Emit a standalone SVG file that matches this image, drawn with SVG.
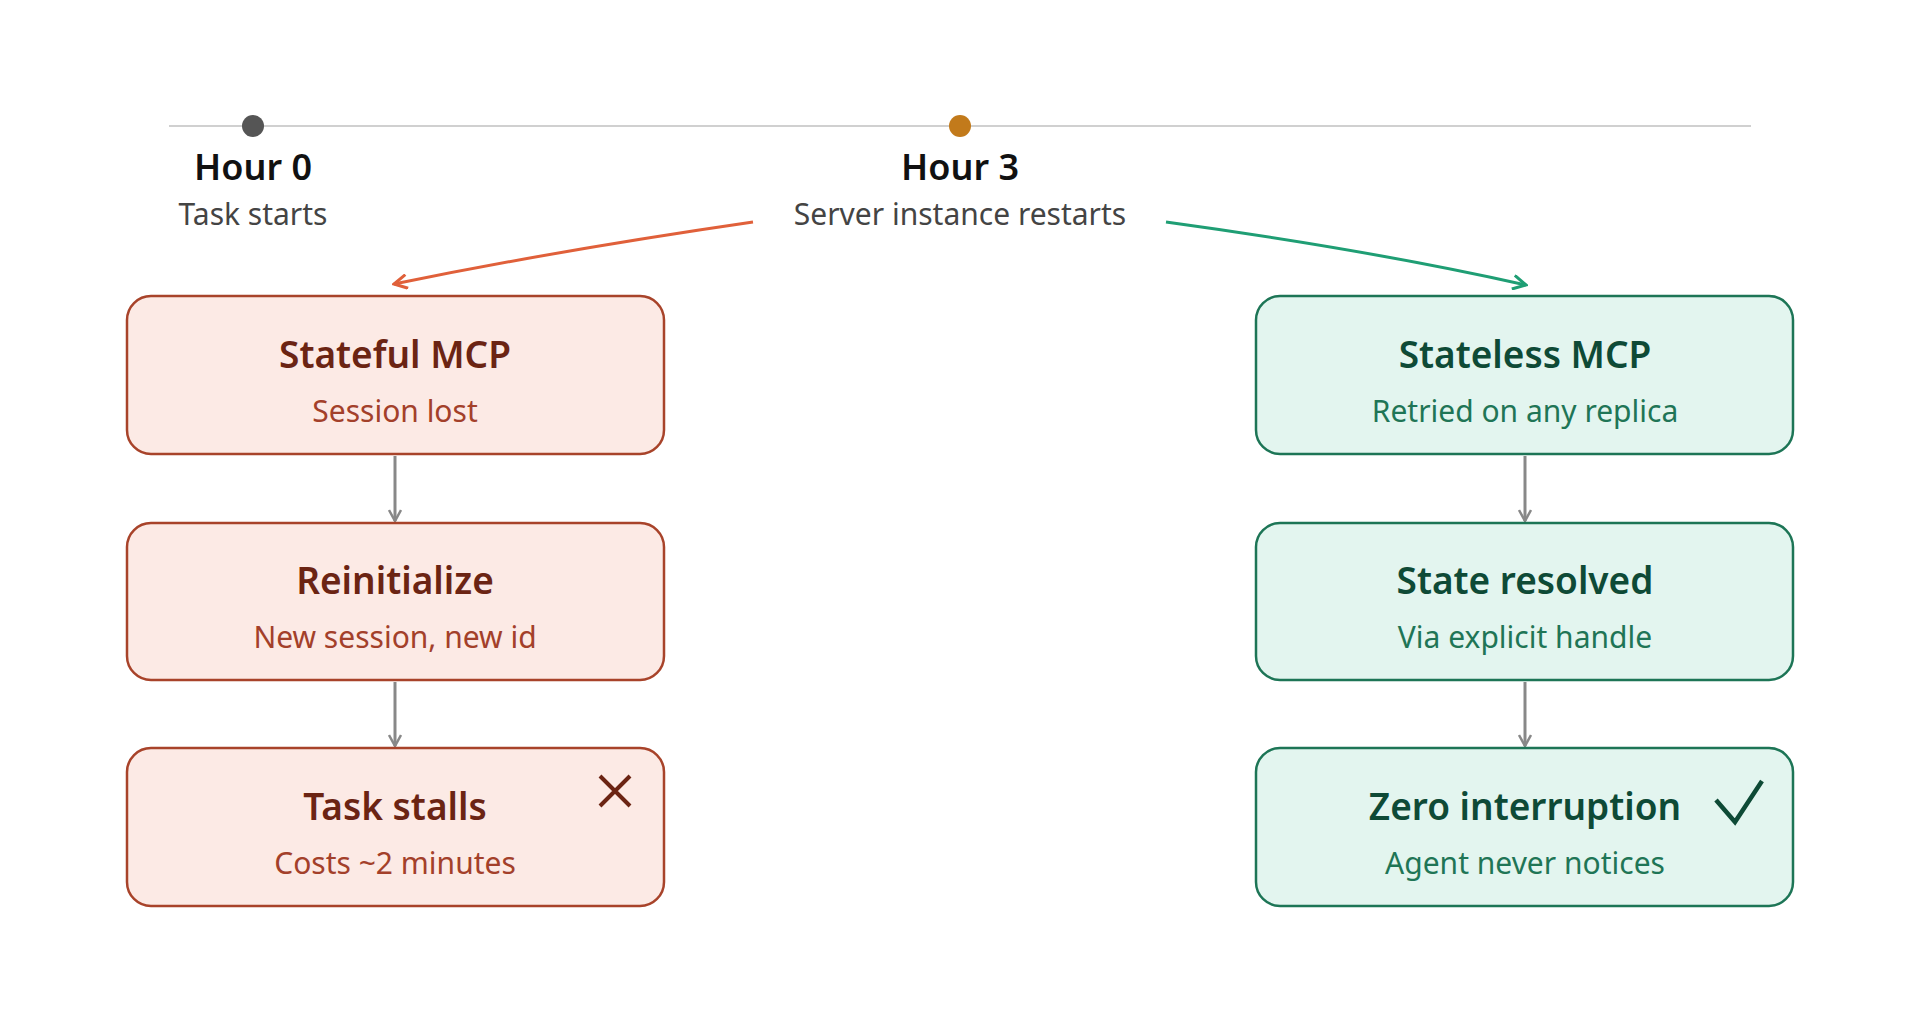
<svg xmlns="http://www.w3.org/2000/svg" width="1920" height="1019" viewBox="0 0 1920 1019">
<defs>
<style>
text{font-family:"Noto Sans","Open Sans",sans-serif;text-anchor:middle}
.hr{font-size:36px;font-weight:600;fill:#111}
.hs{font-size:30px;fill:#444}
.rb{fill:#FCEAE5;stroke:#A8432A;stroke-width:2.5}
.gb{fill:#E3F5EF;stroke:#1D7556;stroke-width:2.5}
.rt{font-size:37px;font-weight:600;fill:#6B2413}
.rs{font-size:30px;fill:#A3402A}
.gt{font-size:37px;font-weight:600;fill:#0E4A36}
.gs{font-size:30px;fill:#1F7556}
.v{stroke:#888;stroke-width:3;fill:none;marker-end:url(#ag)}
</style>
<marker id="ag" viewBox="0 0 14 14" refX="12" refY="7" markerWidth="14" markerHeight="14" markerUnits="userSpaceOnUse" orient="auto"><path d="M1,1 L12,7 L1,13" fill="none" stroke="#888" stroke-width="2.5"/></marker>
<marker id="ar" viewBox="0 0 16 16" refX="14" refY="8" markerWidth="16" markerHeight="16" markerUnits="userSpaceOnUse" orient="auto"><path d="M1,1 L14,8 L1,15" fill="none" stroke="#E0603A" stroke-width="3"/></marker>
<marker id="agr" viewBox="0 0 16 16" refX="14" refY="8" markerWidth="16" markerHeight="16" markerUnits="userSpaceOnUse" orient="auto"><path d="M1,1 L14,8 L1,15" fill="none" stroke="#1F9E74" stroke-width="3"/></marker>
</defs>
<rect width="1920" height="1019" fill="#fff"/>
<g id="timeline">
<line x1="169" y1="126" x2="1751" y2="126" stroke="#d0d0d0" stroke-width="2"/>
<circle cx="253" cy="126" r="11" fill="#555"/>
<circle cx="960" cy="126" r="11" fill="#C27A1B"/>
<text class="hr" x="253" y="180">Hour 0</text>
<text class="hs" x="253" y="225">Task starts</text>
<text class="hr" x="960" y="180">Hour 3</text>
<text class="hs" x="960" y="225">Server instance restarts</text>
</g>
<g id="connectors">
<path d="M753,222 Q560,250 394,284" fill="none" stroke="#E0603A" stroke-width="3" marker-end="url(#ar)"/>
<path d="M1166,222 Q1370,250 1526,285" fill="none" stroke="#1F9E74" stroke-width="3" marker-end="url(#agr)"/>
<path class="v" d="M395,456 V521"/>
<path class="v" d="M395,682 V746"/>
<path class="v" d="M1525,456 V521"/>
<path class="v" d="M1525,682 V746"/>
</g>
<g id="stateful"><rect class="rb" x="127" y="296" width="537" height="158" rx="24"/><text class="rt" x="395" y="368">Stateful MCP</text><text class="rs" x="395" y="422">Session lost</text></g>
<g id="reinit"><rect class="rb" x="127" y="523" width="537" height="157" rx="24"/><text class="rt" x="395" y="594">Reinitialize</text><text class="rs" x="395" y="648">New session, new id</text></g>
<g id="stalls"><rect class="rb" x="127" y="748" width="537" height="158" rx="24"/><text class="rt" x="395" y="820">Task stalls</text><text class="rs" x="395" y="874">Costs ~2 minutes</text>
<path d="M600,776 L630,806 M630,776 L600,806" stroke="#6B2413" stroke-width="4"/></g>
<g id="stateless"><rect class="gb" x="1256" y="296" width="537" height="158" rx="24"/><text class="gt" x="1525" y="368">Stateless MCP</text><text class="gs" x="1525" y="422">Retried on any replica</text></g>
<g id="resolved"><rect class="gb" x="1256" y="523" width="537" height="157" rx="24"/><text class="gt" x="1525" y="594">State resolved</text><text class="gs" x="1525" y="648">Via explicit handle</text></g>
<g id="zero"><rect class="gb" x="1256" y="748" width="537" height="158" rx="24"/><text class="gt" x="1525" y="820">Zero interruption</text><text class="gs" x="1525" y="874">Agent never notices</text>
<path d="M1716,800 L1735,822 L1762,781" fill="none" stroke="#0E4A36" stroke-width="4.5"/></g>
</svg>
